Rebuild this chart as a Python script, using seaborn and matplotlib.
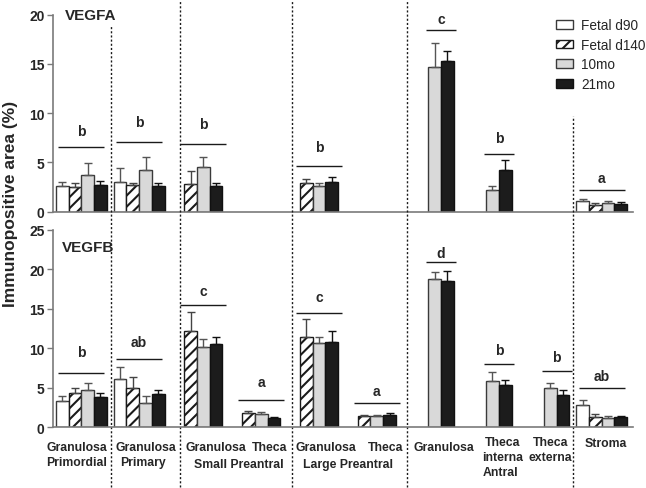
import numpy as np
import pandas as pd
import matplotlib
matplotlib.use('Agg')
import matplotlib.pyplot as plt
import seaborn as sns

nan = np.nan

categories = ['Granulosa Primordial', 'Granulosa Primary', 'Granulosa Small Preantral',
              'Theca Small Preantral', 'Granulosa Large Preantral', 'Theca Large Preantral',
              'Granulosa Antral', 'Theca interna Antral', 'Theca externa Antral', 'Stroma']
stages = ['Fetal d90', 'Fetal d140', '10mo', '21mo']

# VEGFA mean and SEM (upper error only)
vegfa_d90 = [2.64, 3.00, nan, nan, nan, nan, nan, nan, nan, 1.06]
vegfa_d140 = [2.48, 2.71, 2.81, nan, 2.94, nan, nan, nan, nan, 0.68]
vegfa_10mo = [3.73, 4.23, 4.57, nan, 2.58, nan, 14.72, 2.20, nan, 0.91]
vegfa_21mo = [2.74, 2.58, 2.64, nan, 2.98, nan, 15.33, 4.26, nan, 0.75]
vegfa_err_d90 = [0.34, 1.44, nan, nan, nan, nan, nan, nan, nan, 0.20]
vegfa_err_d140 = [0.40, 0.20, 1.35, nan, 0.38, nan, nan, nan, nan, 0.17]
vegfa_err_10mo = [1.18, 1.29, 0.95, nan, 0.36, nan, 2.41, 0.44, nan, 0.21]
vegfa_err_21mo = [0.34, 0.30, 0.24, nan, 0.57, nan, 0.95, 0.99, nan, 0.20]

# VEGFB mean and SEM
vegfb_d90 = [3.37, 6.07, nan, nan, nan, nan, nan, nan, nan, 2.78]
vegfb_d140 = [4.34, 4.97, 12.22, 1.77, 11.46, 1.39, nan, nan, nan, 1.34]
vegfb_10mo = [4.72, 3.11, 10.20, 1.64, 10.63, 1.43, 18.76, 5.86, 4.97, 1.14]
vegfb_21mo = [3.79, 4.17, 10.54, 1.18, 10.83, 1.56, 18.47, 5.35, 4.13, 1.26]
vegfb_err_d90 = [0.63, 1.52, nan, nan, nan, nan, nan, nan, nan, 0.63]
vegfb_err_d140 = [0.63, 1.35, 2.33, 0.33, 2.20, 0.17, nan, nan, nan, 0.30]
vegfb_err_10mo = [0.84, 0.81, 0.97, 0.26, 0.75, 0.15, 0.84, 1.10, 0.59, 0.29]
vegfb_err_21mo = [0.51, 0.55, 0.92, 0.08, 1.39, 0.29, 1.26, 0.68, 0.55, 0.13]

# significance letters
vegfa_sig_cells = [0, 1, 2, 4, 6, 7, 9]
vegfa_sig_letters = ['b', 'b', 'b', 'b', 'c', 'b', 'a']
vegfa_sig_line = [6.57, 7.08, 6.87, 4.64, 18.45, 5.86, 2.2]
vegfa_sig_text = [8.19, 9.1, 8.9, 6.57, 19.56, 7.48, 3.42]

vegfb_sig_cells = [0, 1, 2, 3, 4, 5, 6, 7, 8, 9]
vegfb_sig_letters = ['b', 'ab', 'c', 'a', 'c', 'a', 'd', 'b', 'b', 'ab']
vegfb_sig_line = [6.87, 8.64, 15.47, 3.45, 14.46, 3.07, 20.92, 8.01, 7.12, 4.97]
vegfb_sig_text = [9.53, 10.79, 17.24, 5.73, 16.48, 4.59, 22.06, 9.78, 8.91, 6.5]

palette = {'Fetal d90': 'white', 'Fetal d140': 'white', '10mo': '#d9d9d9', '21mo': '#1c1c1c'}
edges = ['#3a3a3a', '#1a1a1a', '#3a3a3a', '#111111']
err_colors = ['#555555', '#444444', '#555555', '#111111']

sns.set_style('ticks')
plt.rcParams['font.family'] = ['Liberation Sans', 'DejaVu Sans']
plt.rcParams['hatch.linewidth'] = 1.5
plt.rcParams['hatch.color'] = '#1a1a1a'

fig = plt.figure(figsize=(6.46, 4.89), dpi=100)
ax_a = fig.add_axes([53 / 646, 1 - 212.7 / 489, 580 / 646, 197 / 489])
ax_b = fig.add_axes([53 / 646, 1 - 428.3 / 489, 580 / 646, 197.6 / 489])


def draw_panel(ax, means, errs, ymax, step, sig_cells, sig_letters, sig_line, sig_text):
    rows = []
    for stage, vals in zip(stages, means):
        for cell, v in zip(categories, vals):
            if not np.isnan(v):
                rows.append({'cell': cell, 'stage': stage, 'value': v})
    df = pd.DataFrame(rows)
    sns.barplot(data=df, x='cell', y='value', hue='stage', order=categories,
                hue_order=stages, palette=palette, saturation=1, width=0.88,
                errorbar=None, legend=False, linewidth=1, ax=ax)

    bars = list(ax.containers)
    for i, cont in enumerate(bars):
        valid = [k for k, v in enumerate(means[i]) if not np.isnan(v)]
        for patch, k in zip(cont.patches, valid):
            patch.set_edgecolor(edges[i])
            if i == 1:
                patch.set_hatch('///')
            xc = patch.get_x() + patch.get_width() / 2
            ax.errorbar(xc, patch.get_height(), yerr=[[0], [errs[i][k]]], fmt='none',
                        ecolor=err_colors[i], elinewidth=1, capsize=3, capthick=1, zorder=1)

    for cell, letter, ly, ty in zip(sig_cells, sig_letters, sig_line, sig_text):
        ps = [p for c in bars for p in c.patches
              if abs(p.get_x() + p.get_width() / 2 - cell) < 0.5]
        left = min(p.get_x() for p in ps)
        right = max(p.get_x() + p.get_width() for p in ps)
        mid = (left + right) / 2
        hw = 0.40 if len(ps) > 2 else 0.26
        ax.hlines(ly, mid - hw, mid + hw, color='#1a1a1a', linewidth=1)
        ax.text(mid, ty, letter, ha='center', va='center', fontsize=10, fontweight='bold')

    ax.set_xlim(-0.49, 9.54)
    ax.set_ylim(0, ymax)
    ax.set_yticks(np.arange(0, ymax + 1, step))
    ax.set_xticks([])
    ax.set_xlabel('')
    ax.set_ylabel('')
    sns.despine(ax=ax)
    for s in ['left', 'bottom']:
        ax.spines[s].set_color('#7a7a7a')
        ax.spines[s].set_linewidth(1.2)
    ax.tick_params(axis='y', length=4, width=1, color='#7a7a7a', labelsize=10, pad=2)
    for t in ax.get_yticklabels():
        t.set_fontweight('bold')
    return bars


bars_a = draw_panel(ax_a, [vegfa_d90, vegfa_d140, vegfa_10mo, vegfa_21mo],
                    [vegfa_err_d90, vegfa_err_d140, vegfa_err_10mo, vegfa_err_21mo],
                    20, 5, vegfa_sig_cells, vegfa_sig_letters, vegfa_sig_line, vegfa_sig_text)
draw_panel(ax_b, [vegfb_d90, vegfb_d140, vegfb_10mo, vegfb_21mo],
           [vegfb_err_d90, vegfb_err_d140, vegfb_err_10mo, vegfb_err_21mo],
           25, 5, vegfb_sig_cells, vegfb_sig_letters, vegfb_sig_line, vegfb_sig_text)

ax_a.text(0.021, 1.0, 'VEGFA', transform=ax_a.transAxes, ha='left', va='center',
          fontsize=11, fontweight='bold')
ax_b.text(0.016, 0.912, 'VEGFB', transform=ax_b.transAxes, ha='left', va='center',
          fontsize=11, fontweight='bold')

# dotted dividers between follicle stages (x in category units, y in bottom-axes fraction)
dividers = [(0.51, 2.03), (1.71, 2.17), (3.64, 2.17), (5.64, 2.17), (8.50, 1.575)]
for xd, ytop in dividers:
    ax_b.axvline(xd, ymin=-0.3, ymax=ytop, color='#1a1a1a', linestyle=(0, (1.5, 1.5)),
                 linewidth=1, clip_on=False)

# x-axis group labels
x_labels = [('Granulosa', -0.078, 448), ('Primordial', -0.078, 463),
            ('Granulosa', 1.116, 448), ('Primary', 1.064, 463),
            ('Granulosa', 2.328, 448), ('Theca', 3.262, 448), ('Small Preantral', 2.726, 465),
            ('Granulosa', 4.231, 448), ('Theca', 5.270, 448), ('Large Preantral', 4.612, 465),
            ('Granulosa', 6.274, 448),
            ('Theca', 7.277, 443), ('interna', 7.277, 458), ('Antral', 7.243, 473),
            ('Theca', 8.108, 443), ('externa', 8.108, 458),
            ('Stroma', 9.078, 444)]
trans = matplotlib.transforms.blended_transform_factory(ax_b.transData, ax_b.transAxes)
for txt, xl, ypx in x_labels:
    ax_b.text(xl, (428.3 - ypx) / 197.6, txt, transform=trans, ha='center', va='center',
              fontsize=8.8, fontweight='bold')

fig.text(11 / 646, 1 - 204 / 489, 'Immunopositive area (%)', rotation=90, ha='center',
         va='center', fontsize=12.5, fontweight='bold')

fig.legend(handles=bars_a, labels=stages, loc='upper left',
           bbox_to_anchor=(556 / 646, 1 - 19 / 489), frameon=False, fontsize=9.8,
           handlelength=1.25, handleheight=0.6, handletextpad=0.6, labelspacing=0.42,
           borderpad=0, borderaxespad=0)

fig.savefig('out.png', dpi=100)
